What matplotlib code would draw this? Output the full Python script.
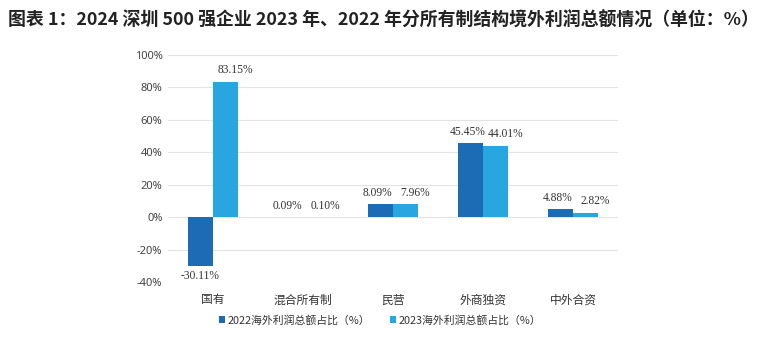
import numpy as np
import matplotlib.pyplot as plt

plt.rcParams['font.family'] = ['Noto Sans CJK SC', 'DejaVu Sans']

# 数据
categories = ["国有", "混合所有制", "民营", "外商独资", "中外合资"]
share_2022 = [-30.11, 0.09, 8.09, 45.45, 4.88]
share_2023 = [83.15, 0.10, 7.96, 44.01, 2.82]
yticks = [-40, -20, 0, 20, 40, 60, 80, 100]

c_dark = "#1b6cb4"
c_light = "#27a6df"

fig = plt.figure(figsize=(7.6, 3.39), dpi=100)
ax = fig.add_axes([0.221, 0.167, 0.592, 0.672])

x = np.arange(len(categories))
w = 0.28
b1 = ax.bar(x - w / 2, share_2022, w, color=c_dark, label="2022海外利润总额占比（%）", zorder=3)
b2 = ax.bar(x + w / 2, share_2023, w, color=c_light, label="2023海外利润总额占比（%）", zorder=3)

# 数据标签（两组标签左右错开一点，避免重叠）
for bars, vals, dx in ((b1, share_2022, -2), (b2, share_2023, 7)):
    for rect, v in zip(bars, vals):
        cx = rect.get_x() + rect.get_width() / 2
        if v >= 0:
            ax.annotate(f"{v:.2f}%", (cx, v), xytext=(dx, 4), textcoords="offset points",
                        ha="center", va="bottom", fontsize=8.3, color="#333333",
                        family="Liberation Serif")
        else:
            ax.annotate(f"{v:.2f}%", (cx, v), xytext=(0, -3), textcoords="offset points",
                        ha="center", va="top", fontsize=8.3, color="#333333",
                        family="Liberation Serif")

ax.set_xlim(-0.5, len(categories) - 0.5)
ax.set_ylim(-40, 100)
ax.set_yticks(yticks)
ax.set_yticklabels([f"{t}%" for t in yticks], fontsize=8, color="#444444", family="Noto Sans")
ax.set_xticks(x)
ax.set_xticklabels(categories, fontsize=8.5, color="#333333")
ax.tick_params(axis="both", length=0)
ax.tick_params(axis="y", pad=4)
ax.tick_params(axis="x", pad=8)
for s in ax.spines.values():
    s.set_visible(False)
ax.grid(axis="y", color="#e3e3e3", linewidth=0.8, zorder=0)
ax.set_axisbelow(True)

fig.legend(loc="center", bbox_to_anchor=(0.5, 0.056), ncol=2, frameon=False,
           fontsize=7.8, handlelength=0.6, handleheight=0.6, handletextpad=0.2,
           columnspacing=1.8, labelcolor="#333333")

fig.text(0.011, 0.94, "图表 1：2024 深圳 500 强企业 2023 年、2022 年分所有制结构境外利润总额情况（单位：%）",
         fontsize=12.9, fontweight="bold", color="#222222", va="center", ha="left")

fig.savefig("out.png", dpi=100)
